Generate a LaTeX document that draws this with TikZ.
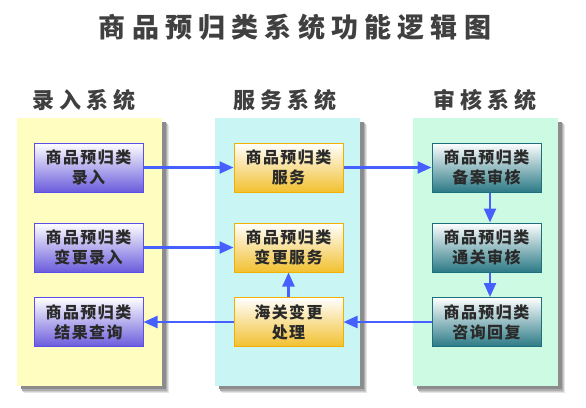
\documentclass[tikz,border=0pt]{standalone}
\usepackage{fontspec}
\usetikzlibrary{arrows.meta}
\newfontfamily\titlefont[LetterSpace=23]{Noto Sans CJK SC}
\newfontfamily\headfont[LetterSpace=24]{Noto Sans CJK SC}
\newfontfamily\boxfont[LetterSpace=9]{Noto Sans CJK SC}
\definecolor{panY}{HTML}{FFFDC0}
\definecolor{panC}{HTML}{C9F6F5}
\definecolor{panG}{HTML}{CDFAE2}
\definecolor{purpB}{HTML}{6B5CDC}
\definecolor{purpD}{HTML}{5A4FEA}
\definecolor{orgB}{HTML}{F2C030}
\definecolor{orgD}{HTML}{F0B000}
\definecolor{tealB}{HTML}{2B7A86}
\definecolor{tealD}{HTML}{1C6F7C}
\definecolor{arrowblue}{HTML}{4660FF}
\definecolor{txtdark}{HTML}{2A2A2A}
\tikzset{
  fbox/.style={minimum width=109pt, minimum height=49pt, inner sep=0pt, line width=1pt,
    align=center, text=txtdark, font=\boxfont\bfseries\fontsize{16}{20}\selectfont},
  purpbox/.style={fbox, draw=purpD, top color=white, bottom color=purpB},
  orgbox/.style={fbox, draw=orgD, top color=white, bottom color=orgB},
  tealbox/.style={fbox, draw=tealD, top color=white, bottom color=tealB},
  conn/.style={draw=arrowblue, line width=2.3pt, -{Triangle[length=14pt,width=12pt]}},
  header/.style={text=txtdark!90, font=\headfont\bfseries\fontsize{22}{26}\selectfont},
}
\begin{document}
\begin{tikzpicture}[x=1pt,y=-1pt]
\useasboundingbox (0,0) rectangle (586,407);
\fill[white] (0,0) rectangle (586,407);
\node[text=black!75, font=\titlefont\bfseries\fontsize{27}{32}\selectfont] (title) at (295,27) {商品预归类系统功能逻辑图};
% panels with shadows
\foreach \x/\c in {17/panY, 215/panC, 413/panG} {
  \fill[black!10] (\x+7,125) rectangle (\x+152,393);
  \fill[black!20] (\x+6,124) rectangle (\x+151,392);
  \fill[black!32] (\x+5,123) rectangle (\x+150,391);
  \fill[black!45] (\x+4,122) rectangle (\x+149,389);
  \fill[\c] (\x,118) rectangle (\x+145,386);
}
\node[header] (h1) at (84,100) {录入系统};
\node[header] (h2) at (285,100) {服务系统};
\node[header] (h3) at (485,100) {审核系统};
% boxes
\node[purpbox] (L1) at (88.5,167.5) {商品预归类\\录入};
\node[purpbox] (L2) at (88.5,247.5) {商品预归类\\变更录入};
\node[purpbox] (L3) at (88.5,322) {商品预归类\\结果查询};
\node[orgbox] (M1) at (288.5,167.5) {商品预归类\\服务};
\node[orgbox] (M2) at (288.5,247.5) {商品预归类\\变更服务};
\node[orgbox] (M3) at (288.5,322) {海关变更\\处理};
\node[tealbox] (R1) at (486.5,167.5) {商品预归类\\备案审核};
\node[tealbox] (R2) at (486.5,247.5) {商品预归类\\通关审核};
\node[tealbox] (R3) at (486.5,322) {商品预归类\\咨询回复};
% connectors
\draw[conn] (L1.east) -- (M1.west);
\draw[conn] (M1.east) -- (R1.west);
\draw[conn] (L2.east) -- (M2.west);
\draw[conn] ([xshift=3.5pt]R1.south) -- ([xshift=3.5pt]R2.north);
\draw[conn] ([xshift=3.5pt]R2.south) -- ([xshift=3.5pt]R3.north);
\draw[conn] (R3.west) -- (M3.east);
\draw[conn] (M3.north) -- (M2.south);
\draw[conn] (M3.west) -- (L3.east);
\end{tikzpicture}
\end{document}
